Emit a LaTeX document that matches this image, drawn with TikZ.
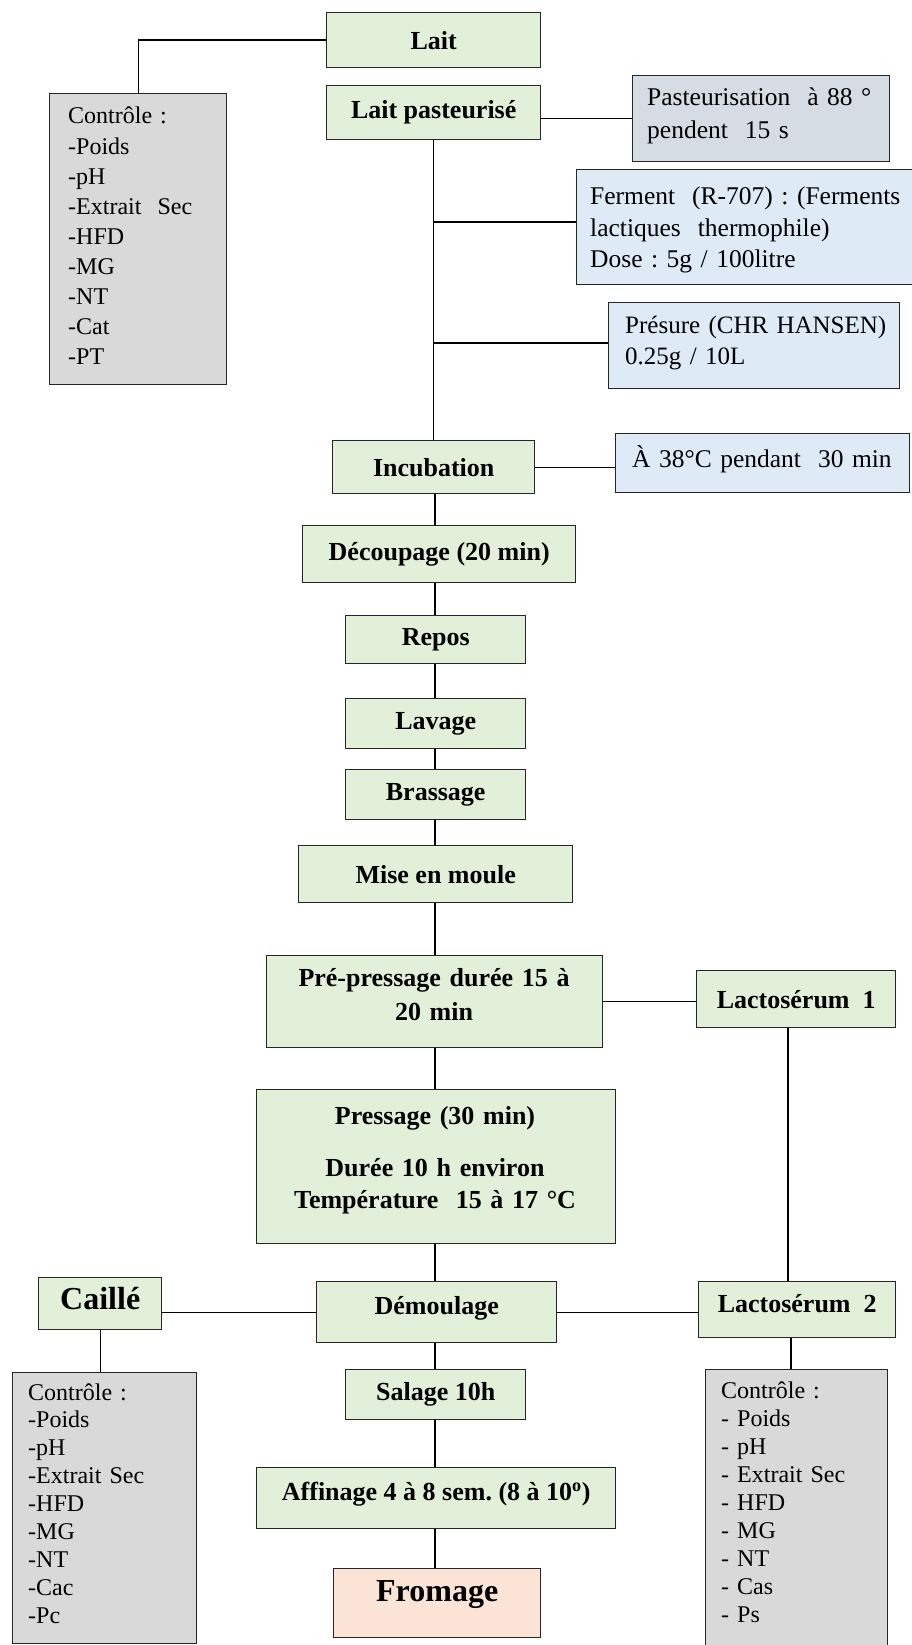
\documentclass[tikz,border=0pt]{standalone}
\usepackage{fontspec}
\setmainfont{Liberation Serif}
\usetikzlibrary{calc}
\definecolor{grn}{HTML}{E2EFD9}
\definecolor{gry}{HTML}{D9D9D9}
\definecolor{pst}{HTML}{D6DCE4}
\definecolor{blu}{HTML}{DEEAF6}
\definecolor{fro}{HTML}{FBE4D5}
\frenchspacing
\begin{document}
\begin{tikzpicture}[x=1pt,y=-1pt,
  box/.style={draw=black!85, line width=1.4pt, inner sep=0pt, anchor=north west},
  gbox/.style={box, fill=grn, font=\fontsize{26}{31}\selectfont\bfseries},
  bigbox/.style={box, font=\fontsize{32}{38}\selectfont\bfseries},
  ctlbox/.style={box, fill=gry},
  bbox/.style={box, fill=blu},
  pbox/.style={box, fill=pst},
  txt/.style={inner sep=0pt, anchor=base west, text width=320pt, align=left},
  regtxt/.style={txt, font=\fontsize{25.5}{31.5}\selectfont\frenchspacing},
  ctltxt/.style={txt, font=\fontsize{24}{#1}\selectfont\frenchspacing},
  ctrtxt/.style={inner sep=0pt, anchor=base, text width=340pt, align=center},
  link/.style={draw=black, line width=1.4pt}
]
\useasboundingbox (0,0) rectangle (912,1645);
\fill[white] (0,0) rectangle (912,1645);

% main column
\node[gbox, minimum width=214, minimum height=55] (lait) at (326,12) {Lait};
\node[gbox, minimum width=214, minimum height=54] (lp) at (326,85) {Lait pasteurisé};
\node[gbox, minimum width=202, minimum height=53] (inc) at (332,440) {Incubation};
\node[gbox, minimum width=273, minimum height=57] (dec) at (302,525) {Découpage (20 min)};
\node[gbox, minimum width=180, minimum height=48] (rep) at (345,615) {Repos};
\node[gbox, minimum width=180, minimum height=50] (lav) at (345,698) {Lavage};
\node[gbox, minimum width=180, minimum height=50] (bra) at (345,769) {Brassage};
\node[gbox, minimum width=274, minimum height=57] (mis) at (298,845) {Mise en moule};
\node[gbox, minimum width=336, minimum height=92] (pp) at (266,955) {};
\node[ctrtxt, font=\fontsize{26}{34}\selectfont\bfseries] (ppt) at (434,986) {Pré-pressage durée 15 à\\20 min};
\node[gbox, minimum width=359, minimum height=154] (pre) at (256,1089) {};
\node[ctrtxt, font=\fontsize{26}{32}\selectfont\bfseries] (pret) at (435,1124) {Pressage (30 min)\\[20pt]Durée 10 h environ\\Température\ \ 15 à 17 °C};
\node[gbox, minimum width=240, minimum height=61, text depth=14] (dem) at (316,1281) {Démoulage};
\node[gbox, minimum width=180, minimum height=50] (sal) at (345,1369) {Salage 10h};
\node[gbox, minimum width=359, minimum height=61, text depth=14] (aff) at (256,1467) {Affinage 4 à 8 sem. (8 à 10\textsuperscript{o})};
\node[bigbox, fill=fro, minimum width=207, minimum height=69, text depth=25] (fro) at (333,1568) {Fromage};

% side boxes
\node[ctlbox, minimum width=177, minimum height=291] (ctl1) at (49,93) {};
\node[ctltxt=30.1] (ctl1t) at (68,124) {Contrôle :\\-Poids\\-pH\\-Extrait\ \ Sec\\-HFD\\-MG\\-NT\\-Cat\\-PT};
\node[pbox, minimum width=257, minimum height=86] (past) at (632,75) {};
\node[regtxt, font=\fontsize{25.5}{33}\selectfont] (pastt) at (647,106) {Pasteurisation\ \ à 88 °\\pendent\ \ 15 s};
\node[bbox, minimum width=345, minimum height=115] (fer) at (576,169) {};
\node[regtxt] (fert) at (590,205) {Ferment\ \ (R-707) : (Ferments\\lactiques\ \ thermophile)\\Dose : 5g / 100litre};
\node[bbox, minimum width=291, minimum height=86] (prs) at (608,302) {};
\node[regtxt, font=\fontsize{25}{31}\selectfont] (prst) at (625,333) {Présure (CHR HANSEN)\\0.25g / 10L};
\node[bbox, minimum width=294, minimum height=59] (a38) at (615,433) {};
\node[regtxt] (a38t) at (632,467) {À 38°C pendant\ \ 30 min};
\node[gbox, minimum width=199, minimum height=57] (lac1) at (696,970) {Lactosérum\ \ 1};
\node[gbox, minimum width=197, minimum height=56, text depth=12] (lac2) at (698,1281) {Lactosérum\ \ 2};
\node[bigbox, fill=grn, minimum width=123, minimum height=52, text depth=10] (cail) at (38,1277) {Caillé};
\node[ctlbox, minimum width=184, minimum height=271] (ctl2) at (12,1372) {};
\node[ctltxt=27.9] (ctl2t) at (28,1400) {Contrôle :\\-Poids\\-pH\\-Extrait Sec\\-HFD\\-MG\\-NT\\-Cac\\-Pc};
\node[ctlbox, minimum width=182, minimum height=285] (ctl3) at (705,1369) {};
\node[ctltxt=28] (ctl3t) at (721,1398) {Contrôle :\\- Poids\\- pH\\- Extrait Sec\\- HFD\\- MG\\- NT\\- Cas\\- Ps};

% connectors
\draw[link] (lait.west) -| (ctl1.north);
\draw[link] (lp.east |- past.west) -- (past.west);
\draw[link] (lp.south) -- (lp.south |- inc.north);
\coordinate (b1) at (433,222);
\coordinate (b2) at (433,343);
\draw[link] (b1) -- (fer.west |- b1);
\draw[link] (b2) -- (prs.west |- b2);
\draw[link] (inc.east) -- (a38.west |- inc.east);
\coordinate (cx) at (435,0);
\draw[link] (cx |- inc.south) -- (cx |- dec.north);
\draw[link] (cx |- dec.south) -- (cx |- rep.north);
\draw[link] (cx |- rep.south) -- (cx |- lav.north);
\draw[link] (cx |- lav.south) -- (cx |- bra.north);
\draw[link] (cx |- bra.south) -- (cx |- mis.north);
\draw[link] (cx |- mis.south) -- (cx |- pp.north);
\draw[link] (cx |- pp.south) -- (cx |- pre.north);
\draw[link] (cx |- pre.south) -- (cx |- dem.north);
\draw[link] (cx |- dem.south) -- (cx |- sal.north);
\draw[link] (cx |- sal.south) -- (cx |- aff.north);
\draw[link] (cx |- aff.south) -- (cx |- fro.north);
\draw[link] (pp.east) -- (lac1.west |- pp.east);
\coordinate (lx) at (788,0);
\draw[link] (lx |- lac1.south) -- (lx |- lac2.north);
\coordinate (rx) at (791,0);
\draw[link] (rx |- lac2.south) -- (rx |- ctl3.north);
\draw[link] (dem.west) -- (cail.east |- dem.west);
\draw[link] (dem.east) -- (lac2.west |- dem.east);
\draw[link] (cail.south) -- (cail.south |- ctl2.north);
\end{tikzpicture}
\end{document}
